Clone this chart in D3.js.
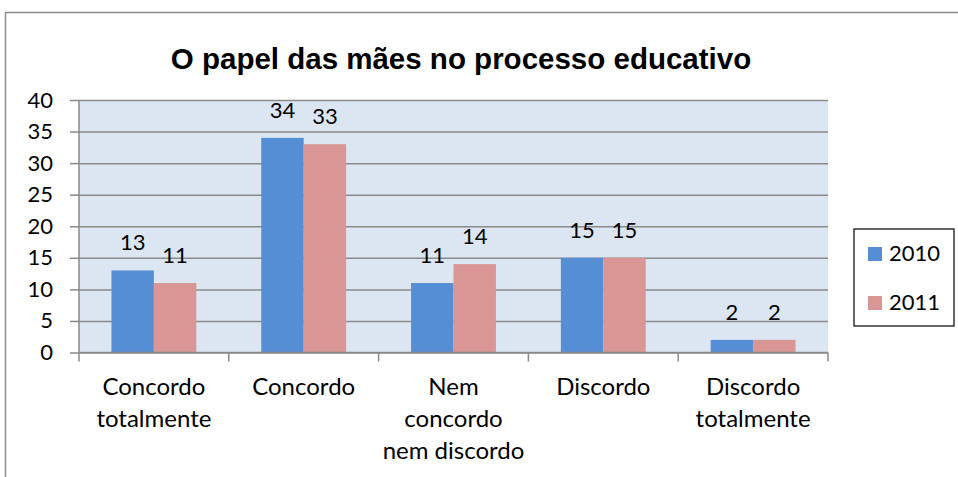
<!DOCTYPE html>
<html>
<head>
<meta charset="utf-8">
<script src="https://cdn.jsdelivr.net/npm/d3@7"></script>
<style>
  body { margin: 0; background: #fff; }
  svg text { font-family: Lato, "Open Sans", sans-serif; }
</style>
</head>
<body>
<div id="chart"></div>
<script>
// dados do gráfico
const categorias = [
    ["Concordo", "totalmente"],
    ["Concordo"],
    ["Nem", "concordo", "nem discordo"],
    ["Discordo"],
    ["Discordo", "totalmente"]
];
const anos = ["2010", "2011"];
const valores2010 = [13, 34, 11, 15, 2];
const valores2011 = [11, 33, 14, 15, 2];
const yTicks = [0, 5, 10, 15, 20, 25, 30, 35, 40];

const width = 958, height = 477;
const cores = { "2010": "#558ED5", "2011": "#D99694" };

const svg = d3.select("#chart").append("svg")
    .attr("width", width)
    .attr("height", height);

// moldura do gráfico
svg.append("rect")
    .attr("x", 5.5).attr("y", 12.5)
    .attr("width", 1000).attr("height", 500)
    .attr("fill", "#fff")
    .attr("stroke", "#8a8a8a")
    .attr("stroke-width", 1.5);

const plot = { left: 79, right: 828, top: 100, bottom: 352.5 };

const x = d3.scaleBand()
    .domain(d3.range(categorias.length))
    .range([plot.left, plot.right])
    .paddingInner(0)
    .paddingOuter(0);

const xSub = d3.scaleBand()
    .domain(anos)
    .range([0, x.bandwidth()])
    .paddingInner(0)
    .paddingOuter(0.765);

const y = d3.scaleLinear()
    .domain([0, 40])
    .range([plot.bottom, plot.top]);

// fundo da área de plotagem
svg.append("rect")
    .attr("x", plot.left).attr("y", plot.top)
    .attr("width", plot.right - plot.left)
    .attr("height", plot.bottom - plot.top)
    .attr("fill", "#DCE6F2");

// eixo y com linhas de grade
const yAxis = svg.append("g")
    .attr("transform", `translate(${plot.left},0)`)
    .call(d3.axisLeft(y).tickValues(yTicks).tickSize(9).tickPadding(17));
yAxis.select(".domain").remove();
yAxis.selectAll(".tick line").attr("stroke", "#8a8a8a").attr("stroke-width", 1.5);
yAxis.selectAll(".tick text")
    .attr("fill", "#000")
    .style("font-size", "22px");
yAxis.selectAll(".tick").append("line")
    .attr("x1", 0).attr("x2", plot.right - plot.left)
    .attr("stroke", "#8a8a8a").attr("stroke-width", 1.5);

// linha vertical do eixo y
svg.append("line")
    .attr("x1", plot.left).attr("x2", plot.left)
    .attr("y1", plot.top).attr("y2", plot.bottom)
    .attr("stroke", "#8a8a8a").attr("stroke-width", 1.5);

// barras
const dados = categorias.map((c, i) => ({
    i: i,
    valores: [
        { ano: "2010", v: valores2010[i] },
        { ano: "2011", v: valores2011[i] }
    ]
}));

const grupos = svg.append("g").selectAll("g")
    .data(dados)
    .enter().append("g")
    .attr("transform", d => `translate(${x(d.i)},0)`);

grupos.selectAll("rect")
    .data(d => d.valores)
    .enter().append("rect")
    .attr("x", d => xSub(d.ano))
    .attr("y", d => y(d.v))
    .attr("width", xSub.bandwidth())
    .attr("height", d => y(0) - y(d.v))
    .attr("fill", d => cores[d.ano]);

grupos.selectAll("text")
    .data(d => d.valores)
    .enter().append("text")
    .attr("x", d => xSub(d.ano) + xSub.bandwidth() / 2)
    .attr("y", d => y(d.v) - 20)
    .attr("text-anchor", "middle")
    .style("font-size", "22px")
    .text(d => d.v);

// eixo x
const xAxis = svg.append("g")
    .attr("transform", `translate(0,${plot.bottom})`);
xAxis.append("line")
    .attr("x1", plot.left).attr("x2", plot.right)
    .attr("stroke", "#8a8a8a").attr("stroke-width", 1.5);
const limites = d3.range(categorias.length + 1).map(i => plot.left + i * x.step());
xAxis.selectAll(".tk")
    .data(limites)
    .enter().append("line")
    .attr("x1", d => d).attr("x2", d => d)
    .attr("y1", 0).attr("y2", 9)
    .attr("stroke", "#8a8a8a").attr("stroke-width", 1.5);

const rotulos = svg.append("g").selectAll("text")
    .data(dados)
    .enter().append("text")
    .attr("text-anchor", "middle")
    .style("font-size", "24px")
    .attr("transform", d => `translate(${x(d.i) + x.bandwidth() / 2},395)`);
rotulos.selectAll("tspan")
    .data(d => categorias[d.i])
    .enter().append("tspan")
    .attr("x", 0)
    .attr("dy", (d, j) => j === 0 ? 0 : 32)
    .text(d => d);

// título
svg.append("text")
    .attr("x", 461)
    .attr("y", 69)
    .attr("text-anchor", "middle")
    .style("font-family", "'Liberation Sans', Arial, sans-serif")
    .style("font-weight", "bold")
    .style("font-size", "29.5px")
    .text("O papel das mães no processo educativo");

// legenda
const leg = svg.append("g");
leg.append("rect")
    .attr("x", 854).attr("y", 229)
    .attr("width", 100).attr("height", 97)
    .attr("fill", "#fff")
    .attr("stroke", "#000")
    .attr("stroke-width", 1.2);
const itens = leg.selectAll("g")
    .data(anos)
    .enter().append("g")
    .attr("transform", (d, i) => `translate(868,${247 + i * 49})`);
itens.append("rect")
    .attr("width", 14).attr("height", 14)
    .attr("fill", d => cores[d]);
itens.append("text")
    .attr("x", 21).attr("y", 14)
    .style("font-size", "22px")
    .text(d => d);
</script>
</body>
</html>
